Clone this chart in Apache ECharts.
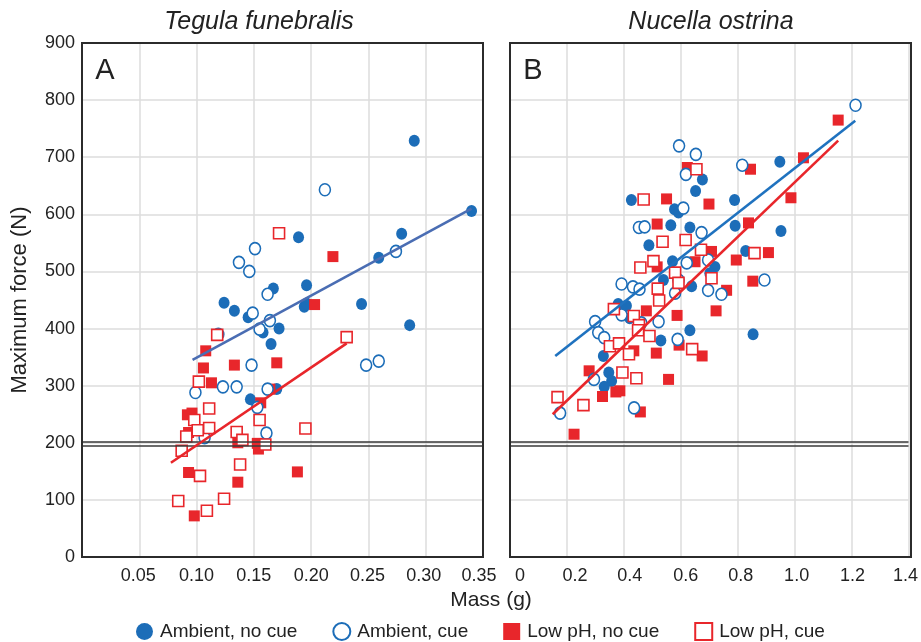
<!DOCTYPE html>
<html>
<head>
<meta charset="utf-8">
<script src="https://cdn.jsdelivr.net/npm/echarts@6/dist/echarts.min.js"></script>
<style>
html, body { margin: 0; padding: 0; background: #fff; }
#main { width: 921px; height: 642px; }
</style>
</head>
<body>
<div id="main"></div>
<script>
// Panel A - Tegula funebralis  [mass g, max force N]
var tegAmbNoCue = [[0.124,445],[0.133,431],[0.145,420],[0.158,393],[0.165,373],[0.167,470],[0.172,400],
  [0.147,276],[0.170,294],[0.290,729],[0.340,606],[0.189,560],[0.279,566],[0.259,524],[0.196,476],
  [0.194,438],[0.196,444],[0.244,443],[0.286,406]];
var tegAmbCue = [[0.162,460],[0.149,427],[0.164,414],[0.155,399],[0.119,390],[0.148,336],[0.099,288],
  [0.123,298],[0.135,298],[0.162,294],[0.153,262],[0.161,217],[0.107,209],[0.151,540],[0.137,516],
  [0.146,500],[0.212,643],[0.274,535],[0.248,336],[0.259,343]];
var tegLowNoCue = [[0.108,361],[0.106,331],[0.113,305],[0.133,336],[0.170,340],[0.164,294],[0.156,270],
  [0.092,249],[0.096,252],[0.093,218],[0.136,200],[0.153,199],[0.154,189],[0.093,148],[0.136,131],
  [0.098,72],[0.219,526],[0.203,442],[0.188,149]];
var tegLowCue = [[0.118,389],[0.102,307],[0.111,260],[0.098,240],[0.111,226],[0.101,222],[0.091,211],
  [0.135,219],[0.140,205],[0.160,197],[0.087,186],[0.155,240],[0.138,162],[0.103,142],[0.124,102],
  [0.084,98],[0.109,81],[0.172,567],[0.231,385],[0.195,225]];
var tegFitAmb = [[0.0965,345],[0.340,610]];
var tegFitLow = [[0.0776,165],[0.231,374]];

// Panel B - Nucella ostrina
var nucAmbNoCue = [[0.4265,625],[0.488,546],[0.676,661],[0.652,641],[0.948,692],[0.789,625],[0.578,609],
  [0.592,603],[0.565,581],[0.632,577],[0.791,580],[0.952,571],[0.571,518],[0.720,508],[0.828,536],
  [0.539,485],[0.702,497],[0.638,474],[0.632,397],[0.854,390],[0.530,379],[0.380,443],[0.409,440],
  [0.421,418],[0.328,352],[0.347,323],[0.357,308],[0.331,298]];
var nucAmbCue = [[0.594,720],[0.653,705],[0.618,670],[0.816,686],[0.609,611],[0.673,568],[0.621,515],
  [0.696,520],[0.894,485],[0.592,485],[0.453,577],[0.473,578],[0.522,412],[0.580,462],[0.696,467],
  [0.743,460],[0.589,381],[0.392,478],[0.432,473],[0.455,469],[0.392,424],[0.461,410],[0.299,412],
  [0.310,393],[0.331,384],[0.295,311],[0.176,252],[0.436,261],[1.214,791]];
var nucLowNoCue = [[0.517,583],[0.517,508],[0.623,682],[0.845,679],[0.550,627],[0.699,618],[0.838,585],
  [0.987,629],[0.708,535],[0.650,517],[0.795,520],[0.908,533],[0.853,483],[0.761,467],[0.587,423],
  [0.724,431],[0.594,371],[0.675,352],[0.514,357],[0.557,311],[0.479,431],[0.435,361],[0.278,326],
  [0.325,281],[0.372,289],[0.386,291],[0.458,254],[0.225,215],[1.153,765],[1.031,699]];
var nucLowCue = [[0.4695,626],[0.504,518],[0.458,507],[0.655,679],[0.536,552],[0.617,555],[0.671,538],
  [0.859,532],[0.580,498],[0.592,480],[0.708,488],[0.519,470],[0.524,449],[0.640,364],[0.365,434],
  [0.435,422],[0.453,406],[0.450,397],[0.490,387],[0.351,369],[0.383,374],[0.418,355],[0.395,323],
  [0.444,313],[0.167,280],[0.258,266]];
var nucFitAmb = [[0.159,352],[1.213,764]];
var nucFitLow = [[0.150,250],[1.153,729]];

var thresholdLines = [201, 195];
var legendNames = ['Ambient, no cue', 'Ambient, cue', 'Low pH, no cue', 'Low pH, cue'];

// tick labels as printed in the figure (panel B labels sit a little right of their gridlines)
var tegTickLabels = ['', '0.05', '0.10', '0.15', '0.20', '0.25', '0.30', '0.35'];
var nucTickLabels = ['0', '0.2', '0.4', '0.6', '0.8', '1.0', '1.2', '1.4'];
var tegTickShift = [0, -1, 0, 0, 0, -1, -2, -4];
var nucTickShift = [10, 8, 6, 5, 3, 2, 1, -3];

var BLUE = '#1c6db8', RED = '#e8262b';
var FONT = "'Liberation Sans', Arial, sans-serif";

var myChart = echarts.init(document.getElementById('main'));

function pts(name, data, idx){
    var filled = (name.indexOf('no cue') >= 0);
    var isBlue = (name.indexOf('Ambient') === 0);
    var col = isBlue ? BLUE : RED;
    return {
        name: name,
        type: 'scatter',
        xAxisIndex: idx,
        yAxisIndex: idx,
        data: data,
        symbol: isBlue ? 'circle' : 'rect',
        symbolSize: isBlue ? [11,12] : 11,
        itemStyle: filled ? { color: col, opacity: 1 }
                          : { color: '#fff', borderColor: col, borderWidth: 1.6, opacity: 1 },
        emphasis: { disabled: true },
        z: filled ? 3 : 4
    };
}

function fit(name, data, idx, col){
    return {
        name: name,
        type: 'line',
        xAxisIndex: idx,
        yAxisIndex: idx,
        data: data,
        symbol: 'none',
        lineStyle: { color: col, width: 2.6 },
        silent: true,
        z: 5
    };
}

function thresh(idx){
    return {
        name: 'thr' + idx,
        type: 'line',
        xAxisIndex: idx,
        yAxisIndex: idx,
        data: [],
        silent: true,
        markLine: {
            silent: true,
            symbol: 'none',
            label: { show: false },
            lineStyle: { color: '#3a3a3a', width: 1.6, type: 'solid' },
            data: thresholdLines.map(function(v){ return { yAxis: v }; })
        }
    };
}

// rich styles so each tick label can be nudged sideways
function tickLabel(labels, shifts, step){
    var rich = {};
    shifts.forEach(function(s, i){
        rich['t' + i] = { fontSize: 18, color: '#222', fontFamily: FONT,
                          padding: s >= 0 ? [0, 0, 0, 2 * s] : [0, -2 * s, 0, 0] };
    });
    return {
        margin: 10, fontSize: 18, color: '#222', fontFamily: FONT,
        formatter: function(v){
            var i = Math.round(v / step);
            if (!labels[i]) return '';
            return '{t' + i + '|' + labels[i] + '}';
        },
        rich: rich
    };
}

var split = { show: true, lineStyle: { color: '#dcdcdc', width: 1.5 } };

function frame(g){
    return { type: 'rect', z: 100, silent: true,
             shape: { x: g.left, y: g.top, width: g.width, height: g.height },
             style: { fill: 'none', stroke: '#2b2b2b', lineWidth: 2 } };
}
var gridA = { left: 82, top: 43, width: 401, height: 514 };
var gridB = { left: 510, top: 43, width: 401, height: 514 };

option = {
    animation: false,
    backgroundColor: '#fff',
    grid: [gridA, gridB],
    xAxis: [
        { type: 'value', gridIndex: 0, min: 0, max: 0.35, interval: 0.05,
          axisLine: { show: false }, axisTick: { show: false }, splitLine: split,
          axisLabel: tickLabel(tegTickLabels, tegTickShift, 0.05) },
        { type: 'value', gridIndex: 1, min: 0, max: 1.4, interval: 0.2,
          axisLine: { show: false }, axisTick: { show: false }, splitLine: split,
          axisLabel: tickLabel(nucTickLabels, nucTickShift, 0.2) }
    ],
    yAxis: [
        { type: 'value', gridIndex: 0, min: 0, max: 900, interval: 100,
          axisLine: { show: false }, axisTick: { show: false }, splitLine: split,
          axisLabel: { margin: 7, fontSize: 18, color: '#222', fontFamily: FONT },
          name: 'Maximum force (N)', nameLocation: 'middle', nameGap: 51, nameRotate: 90,
          nameTextStyle: { fontSize: 22, color: '#222', fontFamily: FONT } },
        { type: 'value', gridIndex: 1, min: 0, max: 900, interval: 100,
          axisLine: { show: false }, axisTick: { show: false }, splitLine: split,
          axisLabel: { show: false } }
    ],
    legend: {
        data: legendNames,
        left: 131,
        top: 617,
        itemWidth: 17,
        itemHeight: 17,
        itemGap: 35,
        selectedMode: false,
        textStyle: { fontSize: 19, color: '#222', fontFamily: FONT, padding: [0,0,0,2] }
    },
    graphic: [
        frame(gridA), frame(gridB),
        { type: 'text', x: 259, y: 22, style: { text: 'Tegula funebralis', font: 'italic 25px ' + FONT, fill: '#222', textAlign: 'center', textVerticalAlign: 'middle' } },
        { type: 'text', x: 711, y: 22, style: { text: 'Nucella ostrina', font: 'italic 25px ' + FONT, fill: '#222', textAlign: 'center', textVerticalAlign: 'middle' } },
        { type: 'text', x: 105, y: 71, z: 10, style: { text: 'A', font: '29px ' + FONT, fill: '#222', textAlign: 'center', textVerticalAlign: 'middle' } },
        { type: 'text', x: 533, y: 71, z: 10, style: { text: 'B', font: '29px ' + FONT, fill: '#222', textAlign: 'center', textVerticalAlign: 'middle' } },
        { type: 'text', x: 491, y: 600, style: { text: 'Mass (g)', font: '21px ' + FONT, fill: '#222', textAlign: 'center', textVerticalAlign: 'middle' } }
    ],
    series: [
        thresh(0), thresh(1),
        pts(legendNames[0], tegAmbNoCue, 0),
        pts(legendNames[1], tegAmbCue, 0),
        pts(legendNames[2], tegLowNoCue, 0),
        pts(legendNames[3], tegLowCue, 0),
        fit('fitA1', tegFitAmb, 0, '#4a6db3'),
        fit('fitA2', tegFitLow, 0, RED),
        pts(legendNames[0], nucAmbNoCue, 1),
        pts(legendNames[1], nucAmbCue, 1),
        pts(legendNames[2], nucLowNoCue, 1),
        pts(legendNames[3], nucLowCue, 1),
        fit('fitB1', nucFitAmb, 1, '#1f72bf'),
        fit('fitB2', nucFitLow, 1, RED)
    ]
};

if (option && typeof option === "object") {
    myChart.setOption(option, true);
}
</script>
</body>
</html>
